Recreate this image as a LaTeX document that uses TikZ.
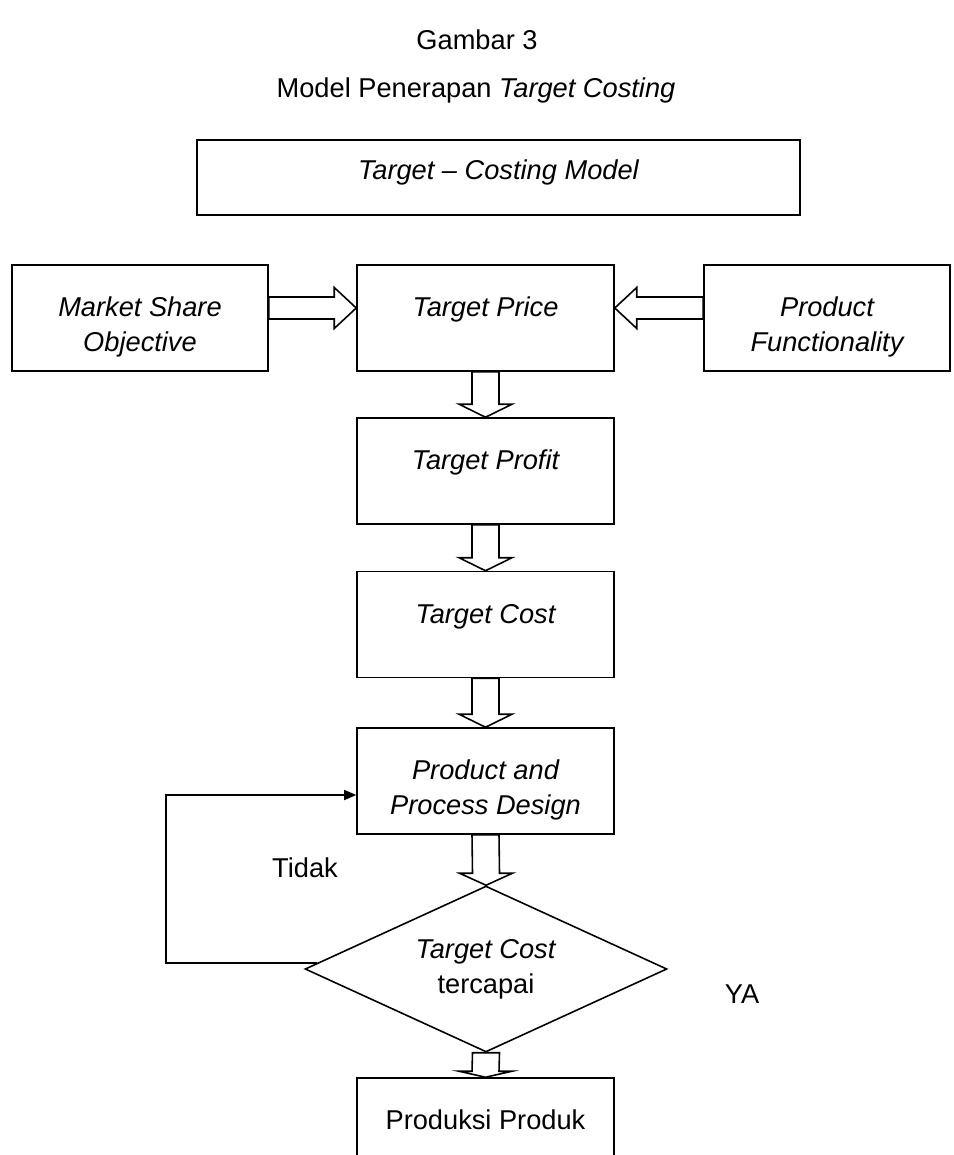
\documentclass[tikz,border=0pt]{standalone}
\usepackage{fontspec}
\setmainfont{Liberation Sans}
\usepackage{tikz}
\usetikzlibrary{positioning,calc,shapes.geometric,arrows.meta}
\newcommand{\boxFont}{\fontsize{15.5}{19.9}\selectfont}
\tikzstyle{sheet} = [x = 0.02cm, y = -0.02cm]
\tikzstyle{flowBox} = [draw, line width=0.9pt, minimum width=5.14cm, minimum height=2.12cm, align=center, font=\boxFont\itshape]
% text sits near the top of the box
\tikzstyle{oneLine} = [text height=0.4cm, text depth=0.45cm]
\tikzstyle{twoLine} = [text height=1.45cm, text depth=0.1cm]
\tikzstyle{decision} = [draw, line width=0.9pt, shape=diamond, aspect=2.18, minimum width=7.24cm, minimum height=3.32cm, inner sep=0pt, align=center, font=\boxFont]
\tikzstyle{blockArrow} = [draw, fill=white, line width=0.9pt, line join=miter]
\tikzstyle{loopLine} = [line width=0.9pt, -{Triangle[length=0.24cm, width=0.2cm]}]
\tikzstyle{plainText} = [font=\boxFont]
% hollow block arrows, the head is #3 long
\newcommand{\downBlockArrow}[3]{\draw [blockArrow] ($(#1.south)+(-13.5,0)$) -- ($(#2.north)+(-13.5,-#3)$) -- ($(#2.north)+(-26.5,-#3)$) -- (#2.north) -- ($(#2.north)+(26.5,-#3)$) -- ($(#2.north)+(13.5,-#3)$) -- ($(#1.south)+(13.5,0)$) -- cycle;}
\newcommand{\rightBlockArrow}[2]{\draw [blockArrow] ($(#1.east)+(0,-21)$) -- ($(#2.west)+(-22,-21)$) -- ($(#2.west)+(-22,-30.5)$) -- ($(#2.west)+(0,-10)$) -- ($(#2.west)+(-22,10.5)$) -- ($(#2.west)+(-22,1)$) -- ($(#1.east)+(0,1)$) -- cycle;}
\newcommand{\leftBlockArrow}[2]{\draw [blockArrow] ($(#1.west)+(0,-21)$) -- ($(#2.east)+(22,-21)$) -- ($(#2.east)+(22,-30.5)$) -- ($(#2.east)+(0,-10)$) -- ($(#2.east)+(22,10.5)$) -- ($(#2.east)+(22,1)$) -- ($(#1.west)+(0,1)$) -- cycle;}

\begin{document}
\begin{tikzpicture}[sheet]
\clip (0,0) rectangle (953,1155);
\fill [white] (0,0) rectangle (953,1155);
% headings
\node [plainText] (figNo) at (477,40) {Gambar 3};
\node [plainText] (figTitle) at (476,90) {Model Penerapan \textit{Target Costing}};
\node [flowBox, oneLine, text depth=0.31cm, minimum width=12.06cm, minimum height=1.5cm] (model) at (498.5,177.5) {Target – Costing Model};
% first row
\node [flowBox, twoLine, minimum width=5.12cm] (share) at (140,318) {Market Share\\Objective};
\node [flowBox, oneLine] (price) at (485.5,318) {Target Price};
\node [flowBox, twoLine, minimum width=4.92cm] (function) at (827,318) {Product\\Functionality};
\rightBlockArrow{share}{price}
\leftBlockArrow{function}{price}
% main column
\node [flowBox, oneLine] (profit) at (485.5,471) {Target Profit};
\node [flowBox, oneLine] (cost) at (485.5,624.5) {Target Cost};
\node [flowBox, twoLine] (design) at (485.5,781) {Product and\\Process Design};
\node [decision] (reached) at (486,969) {\textit{Target Cost}\\tercapai};
\node [flowBox, oneLine, font=\boxFont] (production) at (485.5,1131) {Produksi Produk};
\downBlockArrow{price}{profit}{13}
\downBlockArrow{profit}{cost}{13}
\downBlockArrow{cost}{design}{13}
\downBlockArrow{design}{reached}{12}
\downBlockArrow{reached}{production}{6}
% back loop when the cost is not met
\coordinate (loopTop) at (166,795);
\draw [loopLine] (reached.178) -- (reached.178 -| loopTop) -- (loopTop) -- (loopTop -| design.west);
\node [plainText] (noLabel) at (305,868) {Tidak};
\node [plainText] (yesLabel) at (742,994) {YA};
\end{tikzpicture}
\end{document}
